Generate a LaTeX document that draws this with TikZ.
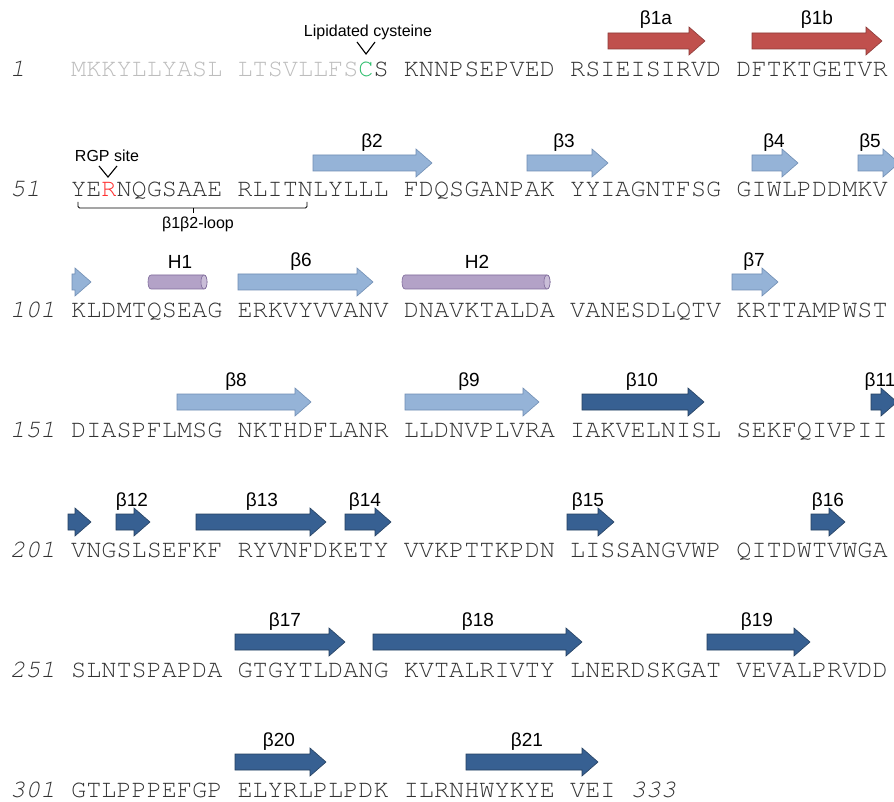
\documentclass[tikz,border=0pt]{standalone}
\usepackage{fontspec}
\setmainfont{Liberation Sans}
\newfontfamily\seqfont{TeX Gyre Cursor}
\definecolor{redF}{HTML}{C0504D}
\definecolor{redD}{HTML}{8C3A38}
\definecolor{ltF}{HTML}{95B3D7}
\definecolor{ltD}{HTML}{6F8DB3}
\definecolor{dkF}{HTML}{376092}
\definecolor{dkD}{HTML}{243F60}
\definecolor{puF}{HTML}{B3A2C7}
\definecolor{puD}{HTML}{7E6A9A}
\definecolor{seqK}{HTML}{333333}
\definecolor{seqG}{HTML}{BDBDBD}
\definecolor{cysG}{HTML}{2DBE6C}
\definecolor{rgpR}{HTML}{FF3030}
\tikzset{
  redarr/.style={fill=redF,draw=redD,line width=0.6pt},
  ltarr/.style={fill=ltF,draw=ltD,line width=0.6pt},
  dkarr/.style={fill=dkF,draw=dkD,line width=0.6pt},
  helix/.style={fill=puF,draw=puD,line width=0.6pt},
  lab/.style={inner sep=0pt,font=\fontsize{19}{19}\selectfont},
  slab/.style={inner sep=0pt,font=\fontsize{16}{16}\selectfont},
  seq/.style={inner sep=0pt,anchor=base west,text=seqK,font=\seqfont\fontsize{25.2}{25.2}\selectfont},
  num/.style={inner sep=0pt,anchor=base west,text=seqK,font=\seqfont\itshape\fontsize{25.2}{25.2}\selectfont},
  vmark/.style={line width=1.1pt,draw=black}
}
% strand arrow: x1, x2, y, style
\newcommand\sarrow[4]{\draw[#4] (#1,#3-8) -- (#2-16,#3-8) -- (#2-16,#3-14) -- (#2,#3) -- (#2-16,#3+14) -- (#2-16,#3+8) -- (#1,#3+8) -- cycle;}
% helix cylinder: x1, x2, y
\newcommand\hcyl[3]{%
  \draw[helix] (#1+3,#3-7) -- (#2-3,#3-7) .. controls (#2+1,#3-7) and (#2+1,#3+7) .. (#2-3,#3+7) -- (#1+3,#3+7) .. controls (#1-1,#3+7) and (#1-1,#3-7) .. (#1+3,#3-7) -- cycle;
  \draw[helix,fill=puF!70!white] (#2-3,#3-7) .. controls (#2+1,#3-7) and (#2+1,#3+7) .. (#2-3,#3+7) .. controls (#2-7,#3+7) and (#2-7,#3-7) .. (#2-3,#3-7) -- cycle;}
\begin{document}
\begin{tikzpicture}[x=1pt,y=-1pt]
\useasboundingbox[fill=white] (0,0) rectangle (894,802);
% ---------- row 1
\sarrow{608}{705}{41}{redarr}
\sarrow{752}{882}{41}{redarr}
\node[lab] (b1a) at (656,20) {β1a};
\node[lab] (b1b) at (817,20) {β1b};
\node[slab] (lip) at (368,32) {Lipidated cysteine};
\draw[vmark] (357,42) -- (366,54) -- (375,42);
\node[num] (n1) at (10,77) {1};
\node[seq] (r1) at (71,77) {{\color{seqG}MKKYLLYASL LTSVLLFS}{\color{cysG}C}S KNNPSEPVED RSIEISIRVD DFTKTGETVR};
% ---------- row 2
\sarrow{313}{432}{163}{ltarr}
\sarrow{527}{608}{163}{ltarr}
\sarrow{752}{798}{163}{ltarr}
\sarrow{858}{899}{163}{ltarr}
\node[lab] (b2) at (372,143) {β2};
\node[lab] (b3) at (564,143) {β3};
\node[lab] (b4) at (774,143) {β4};
\node[lab] (b5) at (870,143) {β5};
\node[slab] (rgp) at (107,156) {RGP site};
\draw[vmark] (99,166) -- (108,177) -- (117,166);
\node[num] (n51) at (10,197) {51};
\node[seq] (r2) at (71,197) {YE{\color{rgpR}R}NQGSAAE RLITNLYLLL FDQSGANPAK YYIAGNTFSG GIWLPDDMKV};
\draw[line width=0.9pt,rounded corners=1.5pt] (78,202) -- (78,208) -- (307,208) -- (307,202);
\draw[line width=0.9pt] (193,208) -- (193,213);
\node[slab] (loop) at (198,224) {β1β2-loop};
% ---------- row 3
\sarrow{72}{91}{282}{ltarr}
\hcyl{148}{207}{282}
\sarrow{238}{373}{282}{ltarr}
\hcyl{402}{550}{282}
\sarrow{732}{778}{282}{ltarr}
\node[lab] (h1) at (180,262) {H1};
\node[lab] (b6) at (301,262) {β6};
\node[lab] (h2) at (477,262) {H2};
\node[lab] (b7) at (754,262) {β7};
\node[num] (n101) at (10,317) {101};
\node[seq] (r3) at (71,317) {KLDMTQSEAG ERKVYVVANV DNAVKTALDA VANESDLQTV KRTTAMPWST};
% ---------- row 4
\sarrow{177}{311}{402}{ltarr}
\sarrow{405}{539}{402}{ltarr}
\sarrow{582}{704}{402}{dkarr}
\sarrow{871}{897}{402}{dkarr}
\node[lab] (b8) at (236,382) {β8};
\node[lab] (b9) at (469,382) {β9};
\node[lab] (b10) at (642,382) {β10};
\node[lab] (b11) at (880,382) {β11};
\node[num] (n151) at (10,437) {151};
\node[seq] (r4) at (71,437) {DIASPFLMSG NKTHDFLANR LLDNVPLVRA IAKVELNISL SEKFQIVPII};
% ---------- row 5
\sarrow{68}{91}{522}{dkarr}
\sarrow{116}{150}{522}{dkarr}
\sarrow{196}{326}{522}{dkarr}
\sarrow{345}{391}{522}{dkarr}
\sarrow{567}{614}{522}{dkarr}
\sarrow{811}{845}{522}{dkarr}
\node[lab] (b12) at (132,502) {β12};
\node[lab] (b13) at (262,502) {β13};
\node[lab] (b14) at (365,502) {β14};
\node[lab] (b15) at (588,502) {β15};
\node[lab] (b16) at (828,502) {β16};
\node[num] (n201) at (10,557) {201};
\node[seq] (r5) at (71,557) {VNGSLSEFKF RYVNFDKETY VVKPTTKPDN LISSANGVWP QITDWTVWGA};
% ---------- row 6
\sarrow{235}{345}{642}{dkarr}
\sarrow{373}{582}{642}{dkarr}
\sarrow{707}{810}{642}{dkarr}
\node[lab] (b17) at (285,622) {β17};
\node[lab] (b18) at (478,622) {β18};
\node[lab] (b19) at (757,622) {β19};
\node[num] (n251) at (10,677) {251};
\node[seq] (r6) at (71,677) {SLNTSPAPDA GTGYTLDANG KVTALRIVTY LNERDSKGAT VEVALPRVDD};
% ---------- row 7
\sarrow{235}{326}{762}{dkarr}
\sarrow{466}{598}{762}{dkarr}
\node[lab] (b20) at (279,742) {β20};
\node[lab] (b21) at (527,742) {β21};
\node[num] (n301) at (10,797) {301};
\node[seq] (r7) at (71,797) {GTLPPPEFGP ELYRLPLPDK ILRNHWYKYE VEI {\itshape 333}};
\end{tikzpicture}
\end{document}
